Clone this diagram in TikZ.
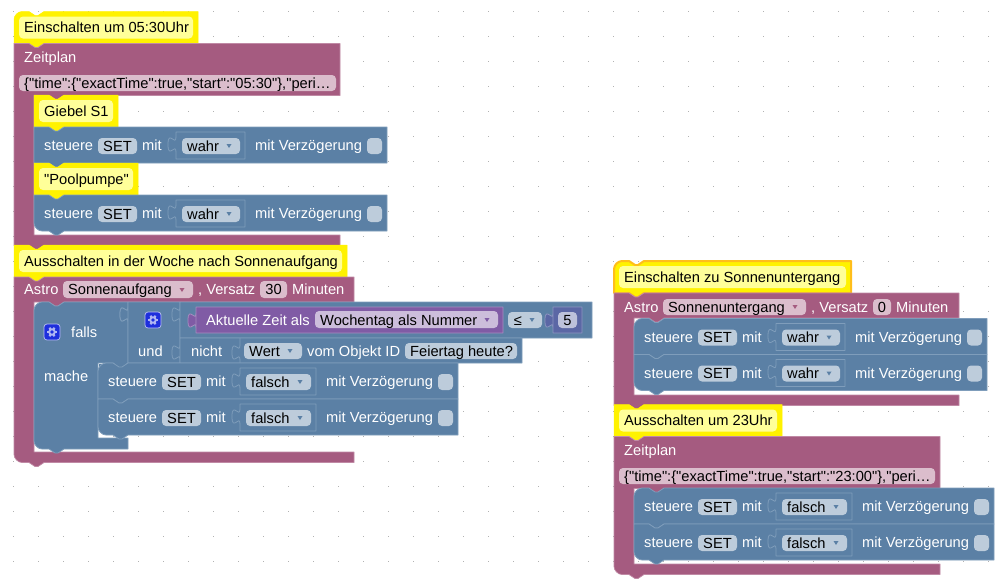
\documentclass[tikz,border=0pt]{standalone}
\usepackage{fontspec}
\newfontfamily\blockschrift{Liberation Sans}

\definecolor{rosa}{HTML}{A55B80}
\definecolor{rosahell}{HTML}{C08AA5}
\definecolor{rosafeld}{HTML}{DBBDCC}
\definecolor{blau}{HTML}{5B80A5}
\definecolor{blauhell}{HTML}{7F9DBB}
\definecolor{blaufeld}{HTML}{BDCCDB}
\definecolor{lila}{HTML}{805BA5}
\definecolor{lilafeld}{HTML}{CCBDDB}
\definecolor{tinte}{HTML}{5B67A5}
\definecolor{tintefeld}{HTML}{BDC2DB}
\definecolor{gelbfeld}{HTML}{FFFF99}
\definecolor{auswahl}{HTML}{FFBE1A}
\definecolor{zahn}{HTML}{1E2FDC}

\tikzset{
  weiss/.style={anchor=base west,inner sep=0pt,text=white,font=\blockschrift\fontsize{14.67}{16}\selectfont},
  schwarz/.style={anchor=base west,inner sep=0pt,text=black,font=\blockschrift\fontsize{14.67}{16}\selectfont},
  mitte/.style={schwarz,anchor=base},
  feldbg/.style={rounded corners=4pt},
  gelbblock/.style={fill=yellow,draw=yellow,line width=0.5pt},
  rosablock/.style={fill=rosa,draw=rosahell,line width=0.7pt},
  blaublock/.style={fill=blau,draw=blauhell,line width=0.8pt},
  puzzlelinie/.style={draw=blauhell,line width=0.8pt},
}

% Feld: Farbe, x1, y1, x2, y2
\newcommand{\feld}[5]{\fill[feldbg,fill=#1] (#2,#3) rectangle (#4,#5);}
% kleiner Pfeil im Feld
\newcommand{\pfeil}[3]{\fill[#1] (#2-2.5,#3-2) -- (#2+2.5,#3-2) -- (#2,#3+2) -- cycle;}
% Puzzle-Stueck als Teil eines Pfades
\newcommand{\puzzle}[2]{-- (#1,#2+3) .. controls (#1,#2+13) and (#1-8,#2-5) .. (#1-8,#2+10.5) .. controls (#1-8,#2+26) and (#1,#2+8) .. (#1,#2+18)}

% Kommentar: Name, x, y, Breite, Text, Radius, Stil
\newcommand{\kommentar}[7]{
  \begin{scope}[shift={(#2,#3)}]
    \draw[gelbblock,#7] (0,#6) .. controls (0,#6/2) and (#6/2,0) .. (#6,0) -- (15,0) -- (21,4) -- (24,4) -- (30,0)
      -- (#4,0) -- (#4,32) -- (30,32) -- (24,36) -- (21,36) -- (15,32) -- (0,32) -- cycle;
    \feld{gelbfeld}{5}{5}{#4-5}{27}
    \node[schwarz] (#1) at (10,21) {#5};
  \end{scope}
}

% Klammerblock: x, y, Breite, Kopfhoehe, Innenhoehe, Radius unten
\newcommand{\klammer}[6]{
  \begin{scope}[shift={(#1,#2)}]
    \draw[rosablock] (0,0) -- (15,0) -- (21,4) -- (24,4) -- (30,0) -- (#3,0) -- (#3,#4)
      -- (50,#4) -- (44,#4+4) -- (41,#4+4) -- (35,#4) -- (20,#4) -- (20,#4+#5) -- (#3,#4+#5) -- (#3,#4+#5+10.5)
      -- (30,#4+#5+10.5) -- (24,#4+#5+14.5) -- (21,#4+#5+14.5) -- (15,#4+#5+10.5) -- (#6,#4+#5+10.5)
      .. controls (#6/2,#4+#5+10.5) and (0,#4+#5+10.5-#6/2) .. (0,#4+#5+10.5-#6) -- cycle;
  \end{scope}
}

% Zeile: Name, x, y, Radius oben, Radius unten, Wert, Zusatzbreite
\newcommand{\zeile}[7]{
  \begin{scope}[shift={(#2,#3)}]
    \draw[blaublock] (0,#4) .. controls (0,#4/2) and (#4/2,0) .. (#4,0) -- (15,0) -- (21,4) -- (24,4) -- (30,0)
      -- (353+#7,0) -- (353+#7,36) -- (30,36) -- (24,40) -- (21,40) -- (15,36) -- (#5,36)
      .. controls (#5/2,36) and (0,36-#5/2) .. (0,36-#5) -- cycle;
    \node[weiss] (#1s) at (10,23.5) {steuere};
    \feld{blaufeld}{64}{11}{103}{27}
    \node[mitte] (#1set) at (83.5,24) {SET};
    \node[weiss] (#1m) at (108,23.5) {mit};
    \draw[puzzlelinie] (142,5) \puzzle{142}{7} -- (142,32) -- (211+#7,32) -- (211+#7,5) -- cycle;
    \feld{blaufeld}{148}{11}{206+#7}{27}
    \node[schwarz] (#1w) at (153,24) {#6};
    \pfeil{blau}{195+#7}{19}
    \node[weiss] (#1v) at (221+#7,23.5) {mit Verzögerung};
    \feld{blaufeld}{333+#7}{11}{348+#7}{27}
  \end{scope}
}

% Zahnrad
\newcommand{\zahnrad}[2]{
  \begin{scope}[shift={(#1,#2)}]
    \draw[fill=zahn,draw=white!70!zahn,line width=0.7pt,rounded corners=3pt] (-8,-8) rectangle (8,8);
    \foreach \w in {0,60,...,300}
      \draw[white!65!zahn,line width=2pt] (0,0) -- (\w:5);
    \fill[white!65!zahn] (0,0) circle (3.8);
    \fill[zahn] (0,0) circle (1.8);
  \end{scope}
}

\begin{document}
\begin{tikzpicture}[x=1pt,y=-1pt,line join=round]
    \useasboundingbox (0,0) rectangle (1008,584);
    \fill[white] (0,0) rectangle (1008,584);

    % 网格点
    \foreach \x in {13,38,...,1008}
      \foreach \y in {11,36,...,584}
        \fill[black!30] (\x-0.5,\y-0.5) rectangle (\x+0.5,\y+0.5);

    % 左上
    \kommentar{einschalten}{14}{11.5}{184}{Einschalten um 05:30Uhr}{8}{}
    \klammer{14}{43.5}{326}{52}{139.5}{0}
    \node[weiss] (zeitplan) at (24,62) {Zeitplan};
    \feld{rosafeld}{19}{75}{336}{91}
    \node[schwarz] (zeitwert) at (24,88) {\{"time":\{"exactTime":true,"start":"05:30"\},"peri…};
    \kommentar{giebel}{34}{95}{84}{Giebel S1}{0}{}
    \zeile{ga}{34}{127}{0}{0}{wahr}{0}
    \kommentar{pool}{34}{163}{104}{"Poolpumpe"}{0}{}
    \zeile{pa}{34}{195}{0}{8}{wahr}{0}

    % 左下
    \kommentar{woche}{14}{245}{333}{Ausschalten in der Woche nach Sonnenaufgang}{0}{}
    \klammer{14}{277}{340}{25}{150}{8}
    \node[weiss] (astro) at (24,294) {Astro};
    \feld{rosafeld}{63}{281}{193}{298}
    \node[schwarz] (aufgang) at (68,294) {Sonnenaufgang};
    \pfeil{rosa}{182}{290}
    \node[weiss] (versatz) at (198,294) {, Versatz};
    \feld{rosafeld}{260}{281}{287}{298}
    \node[mitte] (dreissig) at (273.5,294) {30};
    \node[weiss] (minuten) at (292,294) {Minuten};

    % falls
    \draw[blaublock] (34,310) .. controls (34,306) and (38,302) .. (42,302) -- (49,302) -- (55,306) -- (58,306) -- (64,302)
      -- (128,302) \puzzle{128}{304} -- (128,363) -- (122,367) -- (119,367) -- (113,363) -- (98,363) -- (98,438)
      -- (128,438) -- (128,449) -- (64,449) -- (58,453) -- (55,453) -- (49,449) -- (42,449)
      .. controls (38,449) and (34,445) .. (34,441) -- cycle;
    \zahnrad{52}{332}
    \node[weiss] (falls) at (71,337) {falls};
    \node[weiss] (mache) at (44,381) {mache};
    \fill[blau] (99,364) rectangle (127,368);

    % und
    \draw[blaublock] (128,302) -- (180,302) -- (180,363) -- (128,363) \puzzle{128}{304} -- cycle;
    \zahnrad{153}{320}
    \node[weiss] (und) at (138,356) {und};

    % Vergleich
    \draw[blaublock] (180,302) -- (592,302) -- (592,338) -- (180,338) \puzzle{180}{304} -- cycle;
    \draw[fill=lila,draw=lila!70!white,line width=0.8pt] (196,307) -- (503,307) -- (503,333) -- (196,333) \puzzle{196}{310} -- cycle;
    \node[weiss] (aktuell) at (206,325) {Aktuelle Zeit als};
    \feld{lilafeld}{315}{311}{498}{328}
    \node[schwarz] (wochentag) at (320,325) {Wochentag als Nummer};
    \pfeil{lila}{487}{320}
    \feld{blaufeld}{508}{312}{542}{328}
    \node[mitte] (kleiner) at (518,325) {≤};
    \pfeil{blau}{532}{320}
    \draw[fill=tinte,draw=tinte!70!white,line width=0.8pt] (553,307) -- (582,307) -- (582,333) -- (553,333) \puzzle{553}{310} -- cycle;
    \feld{tintefeld}{558}{312}{577}{328}
    \node[mitte] (fuenf) at (567.5,325) {5};

    % nicht
    \draw[blaublock] (180,338) -- (522,338) -- (522,363) -- (180,363) \puzzle{180}{342} -- cycle;
    \node[weiss] (nicht) at (191,356) {nicht};
    \draw[puzzlelinie] (240,338) \puzzle{240}{342} -- (240,363);
    \feld{blaufeld}{244}{343}{302}{359}
    \node[schwarz] (wert) at (249,356) {Wert};
    \pfeil{blau}{290}{351}
    \node[weiss] (vomobjekt) at (307,356) {vom Objekt ID};
    \feld{blaufeld}{405}{343}{517}{359}
    \node[schwarz] (feiertag) at (410,356) {Feiertag heute?};

    \zeile{fa}{98}{363}{8}{0}{falsch}{7}
    \zeile{fb}{98}{399}{0}{8}{falsch}{7}

    % 右上
    \kommentar{untergang}{614}{261}{237}{Einschalten zu Sonnenuntergang}{8}{draw=auswahl,line width=2pt}
    \klammer{614}{293}{345}{25}{77}{0}
    \node[weiss] (astrob) at (624,312) {Astro};
    \feld{rosafeld}{663}{299}{806}{315}
    \node[schwarz] (sonne) at (668,312) {Sonnenuntergang};
    \pfeil{rosa}{795}{307}
    \node[weiss] (versatzb) at (811,312) {, Versatz};
    \feld{rosafeld}{873}{299}{891}{315}
    \node[mitte] (null) at (882,312) {0};
    \node[weiss] (minutenb) at (896,312) {Minuten};
    \zeile{ua}{634}{318.5}{8}{0}{wahr}{0}
    \zeile{ub}{634}{354.5}{0}{8}{wahr}{0}

    % 右下
    \kommentar{aus}{614}{404.5}{168}{Ausschalten um 23Uhr}{0}{}
    \klammer{614}{436.5}{326}{52}{75.5}{8}
    \node[weiss] (zeitplanb) at (624,455) {Zeitplan};
    \feld{rosafeld}{619}{468}{935}{484}
    \node[schwarz] (zeitwertb) at (624,481) {\{"time":\{"exactTime":true,"start":"23:00"\},"peri…};
    \zeile{aa}{634}{488}{8}{0}{falsch}{7}
    \zeile{ab}{634}{524}{0}{8}{falsch}{7}
\end{tikzpicture}
\end{document}
